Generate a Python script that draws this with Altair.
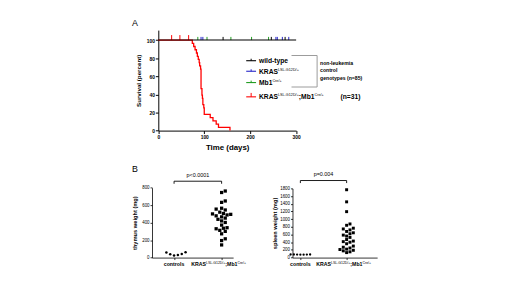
import altair as alt
import pandas as pd

# ------------------------------------------------------------------ data
# Panel A: Kaplan-Meier curve of KRAS^LSL-G12D/+;Mb1^Cre/+ mice (n=31), step points
red_days = [0, 74, 77, 80, 83, 85, 87, 89, 90, 92, 93, 95, 96, 97, 99, 100, 113, 119, 126, 131, 156]
red_surv = [100, 96.4, 92.9, 89.3, 85.7, 82.1, 78.6, 75.0, 71.4, 67.9, 46.4, 39.3, 35.7,
            28.6, 25.0, 17.9, 14.3, 10.7, 7.1, 3.6, 0]
red_censored = [29, 47, 66]
# non-leukemia control genotypes (n=85): all survive, 100 % to day 300
ctrl_days = [0, 300]
ctrl_surv = [100, 100]
wt_censored = [141, 246, 276]
kras_censored = [93, 97, 256, 259, 270, 284]
mb1_censored = [86, 106, 158, 203, 240]

# Panel B: organ weights (mg)
thymus_ctrl = [57, 38, 23, 30, 42, 60]
thymus_kras = [762, 745, 648, 632, 565, 555, 545, 520, 505, 500, 495, 488, 478, 466, 452, 438,
               420, 402, 372, 342, 336, 330, 312, 300, 272, 215, 195, 145]
spleen_ctrl = [78, 80, 76, 79, 81, 77, 80]
spleen_kras = [1765, 1450, 1195, 875, 840, 765, 745, 720, 680, 645, 620, 585, 560, 525, 470, 430,
               415, 400, 360, 300, 270, 250, 220, 210, 190, 175, 150, 130]
thymus_ticks = [0, 200, 400, 600, 800]
spleen_ticks = [0, 200, 400, 600, 800, 1000, 1200, 1400, 1600, 1800]
surv_ticks = [0, 20, 40, 60, 80, 100]
day_ticks = [0, 100, 200, 300]

# ------------------------------------------------------------------ layout
FONT = "Liberation Sans"
W, H = 512, 284
RED, BLUE, GREEN, GREY = "#ff0000", "#2323c8", "#1e9b1e", "#9a9a9a"

# panel A plot frame (canvas px)
A_X0, A_X1 = 152.7, 292.7
A_Y0, A_YT = 122.3, 20.2
A_YMAX = 111
# panel B frames
T_AX, T_C0, T_C1, T_END = 146.3, 168.7, 217.0, 228.7
T_Y0, T_YT = 251.3, 180.3
S_AX, S_C0, S_C1, S_END = 289.0, 297.0, 344.0, 375.0
S_Y0, S_YT = 251.3, 181.0

BOLD = {' ': 278, '(': 333, ')': 333, '+': 584, '-': 333, '.': 278, '/': 278, ';': 333, '<': 584,
        '=': 584, 'A': 722, 'C': 722, 'D': 722, 'G': 778, 'K': 722, 'L': 611, 'M': 833, 'R': 722,
        'S': 667, 'T': 611, 'a': 556, 'b': 611, 'c': 556, 'd': 611, 'e': 556, 'g': 611, 'h': 611,
        'i': 278, 'k': 556, 'l': 278, 'm': 889, 'n': 611, 'o': 611, 'p': 611, 'r': 389, 's': 556,
        't': 333, 'u': 611, 'v': 556, 'w': 778, 'y': 556}
REG = {' ': 278, '(': 333, ')': 333, '+': 584, '-': 333, '.': 278, '/': 278, ';': 278, '<': 584,
       '=': 584, 'A': 667, 'C': 722, 'D': 722, 'G': 778, 'K': 667, 'L': 556, 'M': 833, 'R': 722,
       'S': 667, 'T': 611, 'a': 556, 'b': 556, 'c': 500, 'd': 556, 'e': 556, 'g': 556, 'h': 556,
       'i': 222, 'k': 500, 'l': 222, 'm': 833, 'n': 556, 'o': 556, 'p': 556, 'r': 333, 's': 500,
       't': 278, 'u': 556, 'v': 500, 'w': 722, 'y': 500}


def tw(s, size, bold):
    table = BOLD if bold else REG
    return sum(table.get(c, 556) for c in s) * size / 1000.0


ONE = pd.DataFrame({"k": [0]})


def txt(s, x, y, size, bold=False, align="left", baseline="alphabetic", angle=0, color="black"):
    kw = dict(text=s, fontSize=size, font=FONT, fontWeight="bold" if bold else "normal",
              align=align, baseline=baseline, color=color)
    if angle:
        kw["angle"] = angle
    return alt.Chart(ONE).mark_text(**kw).encode(x=alt.value(x), y=alt.value(y))


def hline(x1, x2, y, color="black", w=1.0):
    return alt.Chart(ONE).mark_rule(color=color, strokeWidth=w).encode(
        x=alt.value(x1), x2=alt.value(x2), y=alt.value(y))


def vline(x, y1, y2, color="black", w=1.0):
    return alt.Chart(ONE).mark_rule(color=color, strokeWidth=w).encode(
        x=alt.value(x), y=alt.value(y1), y2=alt.value(y2))


def rich(x, yc, segs, size, sup_size, align="left", bold=True, sup_bold=False):
    """segs: (text, kind) with kind 'n' normal, 's' superscript, or a float = gap in px before text."""
    widths = []
    for t, k in segs:
        gap = k if isinstance(k, (int, float)) and not isinstance(k, bool) else 0
        widths.append(gap + tw(t, sup_size if k == "s" else size, False if k == "s" else bold))
    if align == "center":
        x -= sum(widths) / 2.0
    base = yc + 0.36 * size
    out = []
    for (t, k), w in zip(segs, widths):
        if k == "s":
            out.append(txt(t, x, base - 0.42 * size, sup_size, bold=sup_bold))
        elif k == "n":
            out.append(txt(t, x, base, size, bold=bold))
        else:
            out.append(txt(t, x + k, base, size, bold=bold))
        x += w
    return out


def swarm(values, px_per_unit, d):
    order = sorted(range(len(values)), key=lambda i: values[i])
    placed, offs = [], [0.0] * len(values)
    for i in order:
        y = values[i] * px_per_unit
        k = 0
        while True:
            cands = [0.0] if k == 0 else [k * d / 2.0, -k * d / 2.0]
            ok = None
            for c in cands:
                if all((c - px) ** 2 + (y - py) ** 2 >= d * d * 0.98 for px, py in placed):
                    ok = c
                    break
            if ok is not None:
                offs[i] = ok
                placed.append((ok, y))
                break
            k += 1
    return offs


# ------------------------------------------------------------------ panel A
xA = alt.Scale(domain=[0, 300], range=[A_X0, A_X1], nice=False, zero=False)
yA = alt.Scale(domain=[0, A_YMAX], range=[A_Y0, A_YT], nice=False, zero=False)
axA_x = alt.Axis(orient="bottom", offset=A_Y0 - H, values=day_ticks, title="Time (days)",
                 titleFontSize=8, titleFontWeight="bold", titlePadding=3, minExtent=10, maxExtent=10,
                 labelFontSize=5, labelFontWeight="bold", tickSize=3, labelPadding=1,
                 labelFlush=False, labelOverlap=False, format="d")
axA_y = alt.Axis(orient="left", offset=-A_X0, values=surv_ticks, title="Survival (percent)",
                 titleFontSize=6.3, titleFontWeight="bold", titlePadding=3, minExtent=14, maxExtent=14,
                 labelFontSize=5, labelFontWeight="bold", tickSize=3, labelPadding=1,
                 labelFlush=False, labelOverlap=False, format="d")
XA = alt.X("day:Q", scale=xA, axis=axA_x)
YA = alt.Y("surv:Q", scale=yA, axis=axA_y)

red_df = pd.DataFrame({"day": red_days, "surv": red_surv})
ctrl_df = pd.DataFrame({"day": ctrl_days, "surv": ctrl_surv})
cens_rows = []
for grp, days, h in [("red", red_censored, 5.5), ("wt", wt_censored, 3.5),
                     ("kras", kras_censored, 3.5), ("mb1", mb1_censored, 3.5)]:
    for d in days:
        cens_rows.append({"day": d, "surv": 100, "top": 100 + h, "grp": grp})
cens_df = pd.DataFrame(cens_rows)

red_line = alt.Chart(red_df).mark_line(interpolate="step-after", color=RED, strokeWidth=1.3).encode(x=XA, y=YA)
ctrl_line = alt.Chart(ctrl_df).mark_line(color="black", strokeWidth=1.1).encode(x=XA, y=YA)
cens = alt.Chart(cens_df).mark_rule(strokeWidth=1).encode(
    x=XA, y=YA, y2="top:Q",
    color=alt.Color("grp:N", scale=alt.Scale(domain=["red", "wt", "kras", "mb1"],
                                             range=[RED, "black", BLUE, GREEN]), legend=None))
panelA = alt.layer(red_line, cens, ctrl_line)


# ------------------------------------------------------------------ panel B
def dot_panel(ctrl, kras, ax, c0, c1, xend, y0, yt, ymax, ticks, title, d_ctrl, d_kras, s_ctrl, s_kras):
    ppu = c1 - c0
    lo = (ax - c0) / ppu
    hi = 1 + (xend - c1) / ppu
    ppy = (y0 - yt) / ymax
    xs = alt.Scale(domain=[lo, hi], range=[ax, xend], nice=False, zero=False)
    ys = alt.Scale(domain=[0, ymax], range=[y0, yt], nice=False, zero=False)
    axx = alt.Axis(orient="bottom", offset=y0 - H, values=[0, 1], labels=False, title="",
                   tickSize=2, domainWidth=0.8, tickWidth=0.8)
    axy = alt.Axis(orient="left", offset=-ax, values=ticks, title=title, titleFontSize=5.8,
                   titleFontWeight="bold", titlePadding=2, minExtent=13, maxExtent=13,
                   labelFontSize=4.5, tickSize=2, labelPadding=1, domainWidth=0.8, tickWidth=0.8,
                   labelFlush=False, labelOverlap=False, format="d")
    oc = swarm(ctrl, ppy, d_ctrl)
    ok = swarm(kras, ppy, d_kras)
    dc = pd.DataFrame({"pos": [0 + o / ppu for o in oc], "mg": ctrl})
    dk = pd.DataFrame({"pos": [1 + o / ppu for o in ok], "mg": kras})
    X = alt.X("pos:Q", scale=xs, axis=axx)
    Y = alt.Y("mg:Q", scale=ys, axis=axy)
    pc = alt.Chart(dc).mark_point(shape="circle", filled=True, size=s_ctrl, color="black",
                                  opacity=1).encode(x=X, y=Y)
    pk = alt.Chart(dk).mark_point(shape="square", filled=True, size=s_kras, color="black",
                                  opacity=1).encode(x=X, y=Y)
    return alt.layer(pc, pk)


panelT = dot_panel(thymus_ctrl, thymus_kras, T_AX, T_C0, T_C1, T_END, T_Y0, T_YT, 800,
                   thymus_ticks, "thymus weight (mg)", 3.9, 3.7, 6.5, 11)
panelS = dot_panel(spleen_ctrl, spleen_kras, S_AX, S_C0, S_C1, S_END, S_Y0, S_YT, 1800,
                   spleen_ticks, "spleen weight (mg)", 3.3, 3.4, 5.5, 9)

# ------------------------------------------------------------------ annotations
ann = []
ann.append(txt("A", 129, 13, 9, baseline="middle", align="center"))
ann.append(txt("B", 129, 161, 9, baseline="middle", align="center"))

# legend of panel A
LX0, LX1, LT = 242, 252, 255
rows = [51.3, 62.0, 73.5, 88.0]
LS, SS = 6.8, 3.8
legend_items = [
    ("black", [("wild-type", "n")], 2.0),
    (BLUE, [("KRAS", "n"), ("LSL-G12D/+", "s")], 2.0),
    (GREEN, [("Mb1", "n"), ("Cre/+", "s")], 2.0),
    (RED, [("KRAS", "n"), ("LSL-G12D/+", "s"), (";Mb1", "n"), ("Cre/+", "s"), ("(n=31)", 17.0)], 4.0),
]
for (col, segs, th), yr in zip(legend_items, rows):
    ann.append(hline(LX0, LX1, yr, color=col, w=1.1))
    ann.append(vline((LX0 + LX1) / 2, yr - th, yr, color=col, w=1.0))
    ann.extend(rich(LT, yr, segs, LS, SS))

# bracket grouping the controls
BX0, BX1, BY0, BY1 = 288, 314, 46, 78
ann.append(hline(BX0, BX1, BY0, color=GREY, w=1))
ann.append(hline(BX0, BX1, BY1, color=GREY, w=1))
ann.append(vline(BX1, BY0, BY1, color=GREY, w=1))
for s, yy in [("non-leukemia", 53.5), ("control", 61.0), ("genotypes (n=85)", 68.5)]:
    ann.append(txt(s, 317, yy, 5.2, bold=True, baseline="middle"))

# panel B category labels, brackets and p values
CAT_Y = 257.7
CS, CSS = 5.3, 3.5
kras_label = [("KRAS", "n"), ("LSL-G12D/+", "s"), (";Mb1", "n"), ("Cre/+", "s")]
for c0, c1, by, ptxt in [(T_C0, T_C1, 173.7, "p<0.0001"), (S_C0, S_C1, 173.0, "p=0.004")]:
    ann.append(txt("controls", c0, CAT_Y + 0.36 * CS, CS, bold=True, align="center"))
    ann.extend(rich(c1 - 3, CAT_Y, kras_label, CS, CSS, align="center"))
    ann.append(hline(c0, c1, by, w=0.9))
    ann.append(vline(c0, by, by + 2.6, w=0.9))
    ann.append(vline(c1, by, by + 2.6, w=0.9))
    ann.append(txt(ptxt, (c0 + c1) / 2, by - 6.5, 5.5, baseline="middle", align="center"))

chart = alt.layer(panelA, panelT, panelS, *ann).resolve_scale(
    x="independent", y="independent"
).properties(
    width=W, height=H, padding=0, autosize=alt.AutoSizeParams(type="none")
).configure_view(strokeWidth=0).configure_axis(
    domainColor="black", tickColor="black", labelColor="black", titleColor="black",
    labelFont=FONT, titleFont=FONT, grid=False, domainWidth=1, tickWidth=1
)

chart.save("out.html", embed_options={"renderer": "svg", "actions": False})
